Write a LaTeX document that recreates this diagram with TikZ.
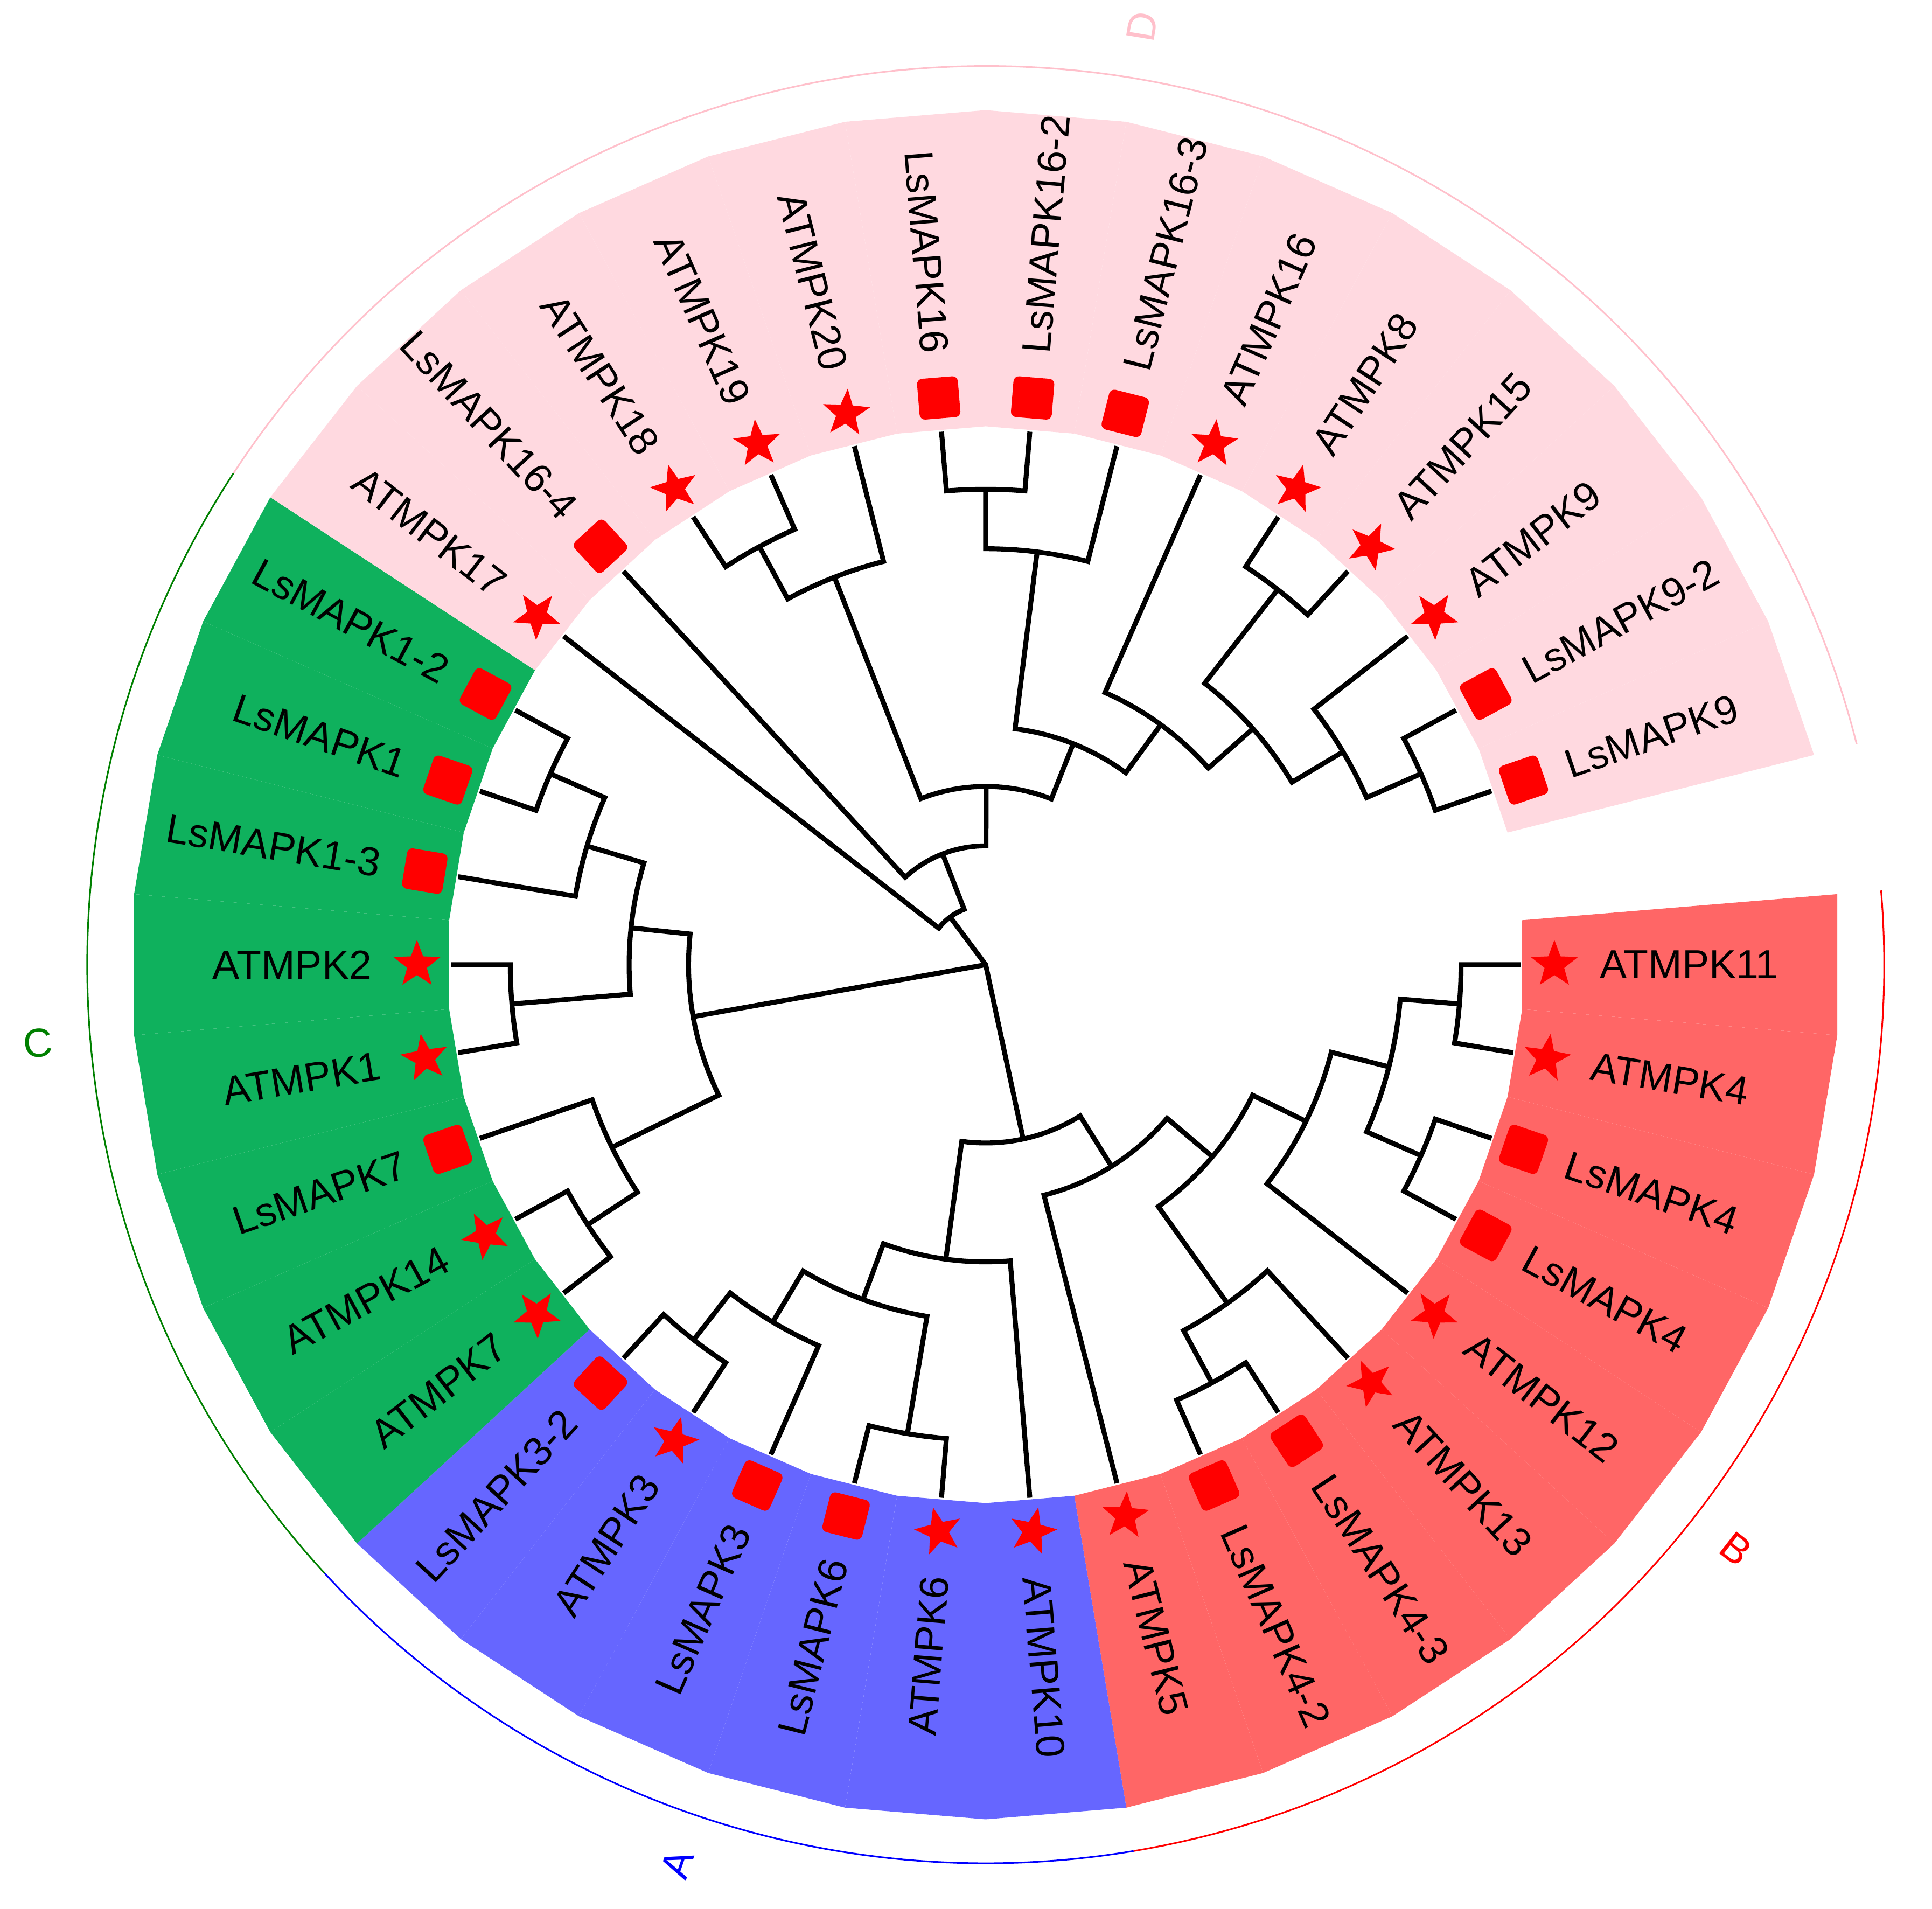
\documentclass[tikz,border=0pt]{standalone}
\usepackage{fontspec}
\setmainfont{Liberation Sans}
\usetikzlibrary{shapes.geometric}
\definecolor{bandd}{HTML}{FFD9E0}
\definecolor{bandb}{HTML}{FF6666}
\definecolor{banda}{HTML}{6666FF}
\definecolor{bandc}{HTML}{0FB15D}
\definecolor{lined}{HTML}{FFC0CB}
\definecolor{lineb}{HTML}{FF0000}
\definecolor{linea}{HTML}{0000FF}
\definecolor{linec}{HTML}{008000}

\begin{document}
\begin{tikzpicture}[x=0.5517cm, y=0.5517cm,
  br/.style={line width=1.3pt, black},
  lbl/.style={inner sep=0pt, font=\fontsize{10.7}{12}\selectfont},
  st/.style={star, star points=5, star point ratio=2.4, fill=red, inner sep=0pt, minimum size=0.46cm},
  sq/.style={rectangle, rounded corners=0.05cm, fill=red, inner sep=0pt, minimum size=0.38cm},
  grp/.style={line width=0.43pt, draw=#1},
  grplbl/.style={inner sep=0pt, text=#1, font=\fontsize{10.7}{12}\selectfont},
]
\def\lv{0.5517}
\def\dA{9.47368}
\useasboundingbox (-16.587,-15.889) rectangle (15.925,16.233);
\fill[white] (-16.587,-15.889) rectangle (15.925,16.233);

% coloured label bands
\foreach \cl/\ia/\ib in {bandb/0/8, banda/9/14, bandc/15/22, bandd/23/36}
  \foreach \i in {\ia,...,\ib}
    \fill[\cl] ({-(\i-0.5)*\dA}:9.06) -- ({-(\i-0.5)*\dA}:14.38)
      -- ({-(\i+0.5)*\dA}:14.38) -- ({-(\i+0.5)*\dA}:9.06) -- cycle;

% group arcs
\draw[grp=lineb] ({0.5*\dA}:15.12) arc[start angle={0.5*\dA}, end angle={-8.5*\dA}, radius={15.12*\lv cm}];
\draw[grp=linea] ({-8.5*\dA}:15.12) arc[start angle={-8.5*\dA}, end angle={-14.5*\dA}, radius={15.12*\lv cm}];
\draw[grp=linec] ({-14.5*\dA}:15.12) arc[start angle={-14.5*\dA}, end angle={-22.5*\dA}, radius={15.12*\lv cm}];
\draw[grp=lined] ({-22.5*\dA}:15.12) arc[start angle={-22.5*\dA}, end angle={-36.5*\dA}, radius={15.12*\lv cm}];

\node[grplbl=lineb, rotate=-37.895] (grpB) at (-37.895:16.0) {B};
\node[grplbl=linea, rotate=71.053]  (grpA) at (-108.947:16.0) {A};
\node[grplbl=linec, rotate=4.737]   (grpC) at (-175.263:16.0) {C};
\node[grplbl=lined, rotate=80.526]  (grpD) at (80.526:16.0) {D};

% tree: level/pos1/level1/pos2/level2
\foreach \l/\pa/\la/\pb/\lb in {
  8/0/9/1/9, 8/2/9/3/9, 7/0.5/8/2.5/8, 6/1.5/7/4/9, 8/6/9/7/9, 7/5/9/6.5/8,
  5/2.75/6/5.75/7, 4/4.25/5/8/9,
  8/10/9/11/9, 8/13/9/14/9, 7/12/9/13.5/8, 6/10.5/8/12.75/7, 5/9/9/11.625/6,
  3/6.125/4/10.3125/5,
  8/15/9/16/9, 7/15.5/8/17/9, 8/18/9/19/9, 8/21/9/22/9, 7/20/9/21.5/8,
  6/18.5/8/20.75/7, 5/16.25/7/19.625/6,
  8/25/9/26/9, 7/25.5/8/27/9, 8/28/9/29/9, 7/28.5/8/30/9, 8/32/9/33/9,
  8/35/9/36/9, 7/34/9/35.5/8, 6/32.5/8/34.75/7, 5/31/9/33.625/6,
  4/29.25/7/32.3125/5, 3/26.25/7/30.78125/4, 2/24/9/28.515625/3,
  1/23/9/26.2578125/2}
  \draw[br] ({-\pa*\dA}:\la) -- ({-\pa*\dA}:\l)
    arc[start angle={-\pa*\dA}, end angle={-\pb*\dA}, radius={\l*\lv cm}]
    -- ({-\pb*\dA}:\lb);

\foreach \p/\l in {24.62890625/1, 17.9375/5, 8.21875/3}
  \draw[br, line cap=round] (0,0) -- ({-\p*\dA}:\l);

% leaves
\foreach \lab/\mk [count=\i from 0] in {ATMPK11/st, ATMPK4/st, LsMAPK4/sq, LsMAPK4/sq,
    ATMPK12/st, ATMPK13/st, LsMAPK4-3/sq, LsMAPK4-2/sq, ATMPK5/st, ATMPK10/st,
    ATMPK6/st, LsMAPK6/sq, LsMAPK3/sq, ATMPK3/st, LsMAPK3-2/sq, ATMPK7/st,
    ATMPK14/st, LsMAPK7/sq, ATMPK1/st, ATMPK2/st, LsMAPK1-3/sq, LsMAPK1/sq,
    LsMAPK1-2/sq, ATMPK17/st, LsMAPK16-4/sq, ATMPK18/st, ATMPK19/st, ATMPK20/st,
    LsMAPK16/sq, LsMAPK16-2/sq, LsMAPK16-3/sq, ATMPK16/st, ATMPK8/st, ATMPK15/st,
    ATMPK9/st, LsMAPK9-2/sq, LsMAPK9/sq} {
  \pgfmathsetmacro\a{-\i*\dA}
  \pgfmathtruncatemacro\lft{(\i>9)&&(\i<29)}
  \ifnum\lft=1
    \pgfmathsetmacro\rt{\a+180}
    \node[\mk, rotate=\rt] (m\i) at (\a:9.57) {};
    \node[lbl, rotate=\rt, anchor=east] (l\i) at (\a:10.32) {\lab};
  \else
    \node[\mk, rotate=\a] (m\i) at (\a:9.57) {};
    \node[lbl, rotate=\a, anchor=west] (l\i) at (\a:10.32) {\lab};
  \fi
}
\end{tikzpicture}
\end{document}
